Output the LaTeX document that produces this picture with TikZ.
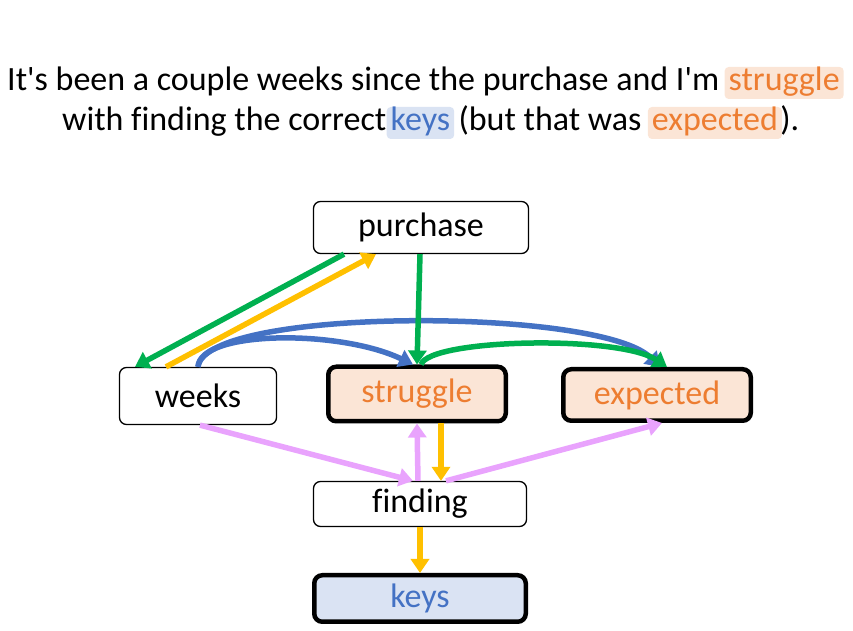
\documentclass[tikz,border=0pt]{standalone}
\usepackage{fontspec}
\setmainfont{Carlito}[Ligatures={TeXOff,NoCommon}]
\usetikzlibrary{arrows.meta,positioning}
\definecolor{txtorange}{HTML}{ED7D31}
\definecolor{boxorange}{HTML}{FBE5D6}
\definecolor{txtblue}{HTML}{4472C4}
\definecolor{boxblue}{HTML}{DAE3F3}
\definecolor{lkgreen}{HTML}{00B050}
\definecolor{lkyellow}{HTML}{FFC000}
\definecolor{lkpink}{HTML}{E9A3FD}
\begin{document}
\begin{tikzpicture}[x=1pt,y=1pt,
    box/.style={draw,rounded corners=7pt,line width=1.3pt,font=\fontsize{34}{40}\selectfont},
    keybox/.style={box,line width=4.5pt,rounded corners=8pt},
    hl/.style={rounded corners=4pt,inner xsep=4pt,inner ysep=3pt,text height=21pt,text depth=5pt,anchor=base west},
    plain/.style={inner sep=0pt,anchor=base west},
    lk/.style={line width=5.5pt,-{Triangle[length=14pt,width=18pt]}}]
  \useasboundingbox (0,0) rectangle (853,631);
  % the sentence
  \begin{scope}[font=\fontsize{34}{40}\selectfont]
    \node[plain] (s1) at (7,540) {It's been a couple weeks since the purchase and I'm};
    \node[hl,fill=boxorange,text=txtorange] (s2) at ([xshift=5pt]s1.base east) {struggle};
    \node[plain] (s3) at (62,500) {with finding the correct};
    \node[hl,fill=boxblue,text=txtblue] (s4) at (s3.base east) {keys};
    \node[plain] (s5) at ([xshift=4pt]s4.base east) {(but that was};
    \node[hl,fill=boxorange,text=txtorange] (s6) at ([xshift=6pt]s5.base east) {expected};
    \node[plain] (s7) at ([xshift=-2pt]s6.base east) {).};
  \end{scope}
  % the words
  \node[box,minimum width=215pt,minimum height=52pt] (purchase) at (421,403.5) {purchase};
  \node[box,minimum width=157pt,minimum height=57pt] (weeks) at (198,235) {weeks};
  \node[keybox,fill=boxorange,text=txtorange,minimum width=177.5pt,minimum height=54.5pt] (struggle) at (417,237) {struggle};
  \node[keybox,fill=boxorange,text=txtorange,minimum width=187.5pt,minimum height=51.5pt] (expected) at (657,236) {expected};
  \node[box,minimum width=213pt,minimum height=45pt] (finding) at (420,127) {finding};
  \node[keybox,fill=boxblue,text=txtblue,minimum width=211.5pt,minimum height=46.5pt] (keys) at (420,32.5) {keys};
  % links
  \draw[lk,lkgreen] ([xshift=-77pt]purchase.south) -- ([xshift=-63pt]weeks.north);
  \draw[lk,lkyellow] ([xshift=-32pt]weeks.north) -- ([xshift=-45pt]purchase.south);
  \draw[lk,txtblue] (weeks.north) .. controls +(2,37) and +(-73,35) .. ([xshift=-4pt]struggle.north);
  \draw[lk,txtblue] (weeks.north) .. controls +(7,60) and +(-60,60) .. ([xshift=3pt]expected.north);
  \draw[lk,lkgreen] ([xshift=-1pt]purchase.south) -- (struggle.north);
  \draw[lk,lkgreen] ([xshift=4pt]struggle.north) .. controls +(9,26) and +(-48,32) .. ([xshift=10pt]expected.north);
  \draw[lk,lkpink] ([xshift=2pt]weeks.south) -- ([xshift=-7pt]finding.north);
  \draw[lk,lkpink] ([xshift=-2pt]finding.north) -- (struggle.south);
  \draw[lk,lkyellow] ([xshift=24pt]struggle.south) -- ([xshift=21pt]finding.north);
  \draw[lk,lkpink] ([xshift=26pt]finding.north) -- ([xshift=5pt]expected.south);
  \draw[lk,lkyellow] (finding.south) -- (keys.north);
\end{tikzpicture}
\end{document}
